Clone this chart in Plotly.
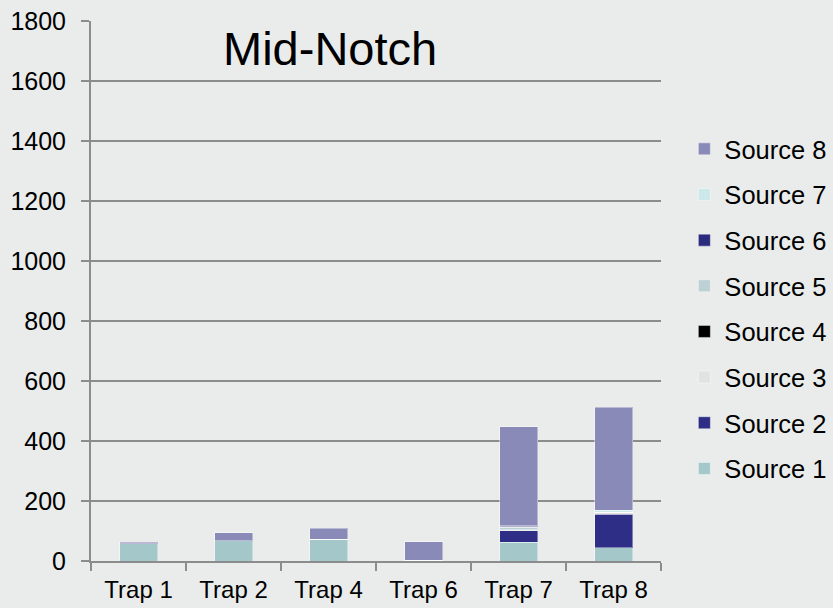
import plotly.graph_objects as go

traps = ["Trap 1", "Trap 2", "Trap 4", "Trap 6", "Trap 7", "Trap 8"]
source1 = [58, 67, 72, 3, 63, 44]
source2 = [0, 0, 0, 0, 38, 112]
source3 = [0, 0, 0, 0, 4, 7]
source4 = [0, 0, 0, 0, 0, 0]
source5 = [0, 0, 0, 0, 8, 0]
source6 = [0, 0, 0, 0, 3, 0]
source7 = [0, 0, 0, 0, 1, 7]
source8 = [5, 27, 37, 61, 330, 343]
y_ticks = [0, 200, 400, 600, 800, 1000, 1200, 1400, 1600, 1800]

series = [
    ("Source 1", source1, "#a4c8c9"),
    ("Source 2", source2, "#2e2e86"),
    ("Source 3", source3, "#e2e2e2"),
    ("Source 4", source4, "#000000"),
    ("Source 5", source5, "#bdd0d3"),
    ("Source 6", source6, "#2b2b7e"),
    ("Source 7", source7, "#cde8ea"),
    ("Source 8", source8, "#8a8ab8"),
]

BG = "#e9eceb"

fig = go.Figure()
n = len(series)
for i, (name, vals, col) in enumerate(series):
    fig.add_trace(go.Bar(
        x=traps, y=vals, name=name, legendgroup=name, legendrank=n - i,
        marker=dict(color=col, line=dict(color="rgba(255,255,255,0.4)", width=1)),
        width=0.4,
    ))

font = "Liberation Sans, Arial, sans-serif"
fig.update_layout(
    width=833, height=608,
    barmode="stack",
    paper_bgcolor=BG,
    plot_bgcolor="rgba(0,0,0,0)",
    margin=dict(l=91, r=172, t=21, b=47, autoexpand=False),
    font=dict(family=font, size=24, color="#000000"),
    showlegend=True,
    legend=dict(
        x=1.041, xanchor="left", y=0.806, yanchor="top",
        traceorder="grouped", tracegroupgap=9.5,
        font=dict(size=25.5), bgcolor="rgba(0,0,0,0)",
        itemwidth=30,
    ),
    xaxis=dict(
        showgrid=False, showline=True, linecolor="#8c8c8c", linewidth=2,
        ticks="outside", ticklen=8, tickwidth=2, tickcolor="#8c8c8c",
        tickson="boundaries", tickfont=dict(size=24), ticklabelstandoff=6,
    ),
    yaxis=dict(
        range=[0, 1800], tickvals=y_ticks,
        showgrid=True, gridcolor="#8c8c8c", gridwidth=2,
        showline=True, linecolor="#8c8c8c", linewidth=2,
        ticks="outside", ticklen=8, tickwidth=2, tickcolor="#8c8c8c",
        tickfont=dict(size=25), ticklabelstandoff=10, zeroline=False,
    ),
    annotations=[dict(
        text="Mid-Notch", xref="paper", yref="paper", x=0.419, y=0.95,
        xanchor="center", yanchor="middle", showarrow=False,
        font=dict(size=47, family=font, color="#000000"),
    )],
)

fig.write_html(
    "out.html",
    config={"displayModeBar": False},
    post_script="document.body.style.margin='0';document.body.style.background='" + BG + "';document.body.style.overflow='hidden';",
)
